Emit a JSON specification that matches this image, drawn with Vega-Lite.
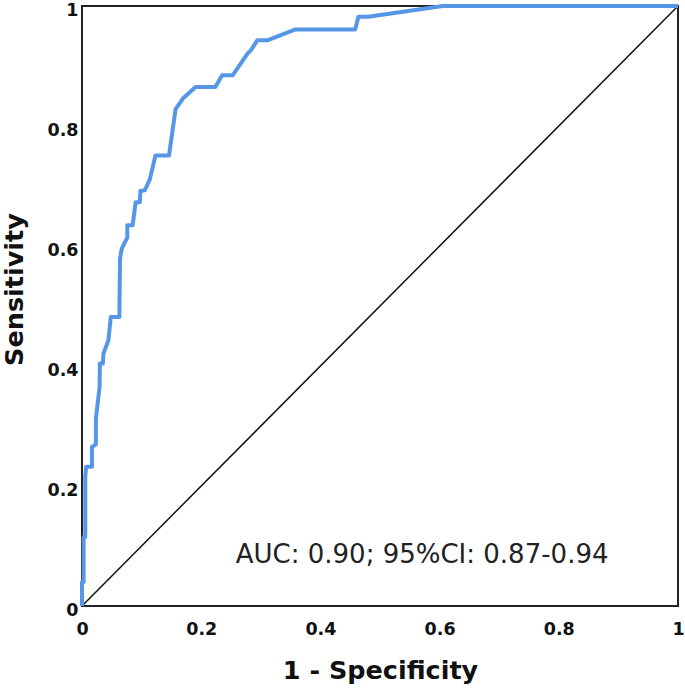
{
  "$schema": "https://vega.github.io/schema/vega-lite/v6.json",
  "width": 596,
  "height": 600,
  "autosize": {"type": "none"},
  "padding": {"left": 82, "top": 6, "right": 7, "bottom": 82},
  "background": "white",
  "config": {
    "view": {"stroke": "#222", "strokeWidth": 2},
    "axis": {
      "grid": false,
      "ticks": false,
      "domain": false,
      "labelFont": "DejaVu Sans",
      "labelFontWeight": "bold",
      "labelFontSize": 17.5,
      "labelColor": "#111",
      "labelFlush": false,
      "titleFont": "DejaVu Sans",
      "titleFontWeight": "bold",
      "titleFontSize": 25.5,
      "titleColor": "#111"
    }
  },
  "datasets": {
    "roc": [
      {"i": 0, "fpr": 0, "tpr": 0},
      {"i": 1, "fpr": 0, "tpr": 0.04},
      {"i": 2, "fpr": 0.0027, "tpr": 0.04},
      {"i": 3, "fpr": 0.0027, "tpr": 0.115},
      {"i": 4, "fpr": 0.0055, "tpr": 0.115},
      {"i": 5, "fpr": 0.0055, "tpr": 0.215},
      {"i": 6, "fpr": 0.007, "tpr": 0.232},
      {"i": 7, "fpr": 0.0167, "tpr": 0.232},
      {"i": 8, "fpr": 0.0167, "tpr": 0.265},
      {"i": 9, "fpr": 0.0233, "tpr": 0.2695},
      {"i": 10, "fpr": 0.0233, "tpr": 0.312},
      {"i": 11, "fpr": 0.0295, "tpr": 0.365},
      {"i": 12, "fpr": 0.03, "tpr": 0.404},
      {"i": 13, "fpr": 0.035, "tpr": 0.404},
      {"i": 14, "fpr": 0.036, "tpr": 0.4207},
      {"i": 15, "fpr": 0.0443, "tpr": 0.443},
      {"i": 16, "fpr": 0.0483, "tpr": 0.4817},
      {"i": 17, "fpr": 0.0627, "tpr": 0.4817},
      {"i": 18, "fpr": 0.0638, "tpr": 0.579},
      {"i": 19, "fpr": 0.0667, "tpr": 0.5957},
      {"i": 20, "fpr": 0.076, "tpr": 0.614},
      {"i": 21, "fpr": 0.076, "tpr": 0.6345},
      {"i": 22, "fpr": 0.085, "tpr": 0.6345},
      {"i": 23, "fpr": 0.09, "tpr": 0.673},
      {"i": 24, "fpr": 0.097, "tpr": 0.673},
      {"i": 25, "fpr": 0.098, "tpr": 0.6917},
      {"i": 26, "fpr": 0.1055, "tpr": 0.693},
      {"i": 27, "fpr": 0.1138, "tpr": 0.711},
      {"i": 28, "fpr": 0.1233, "tpr": 0.7507},
      {"i": 29, "fpr": 0.146, "tpr": 0.7507},
      {"i": 30, "fpr": 0.157, "tpr": 0.828},
      {"i": 31, "fpr": 0.1693, "tpr": 0.8457},
      {"i": 32, "fpr": 0.1905, "tpr": 0.865},
      {"i": 33, "fpr": 0.2238, "tpr": 0.865},
      {"i": 34, "fpr": 0.235, "tpr": 0.8845},
      {"i": 35, "fpr": 0.2527, "tpr": 0.8845},
      {"i": 36, "fpr": 0.2777, "tpr": 0.9207},
      {"i": 37, "fpr": 0.2833, "tpr": 0.926},
      {"i": 38, "fpr": 0.2943, "tpr": 0.943},
      {"i": 39, "fpr": 0.312, "tpr": 0.943},
      {"i": 40, "fpr": 0.3583, "tpr": 0.961},
      {"i": 41, "fpr": 0.4583, "tpr": 0.961},
      {"i": 42, "fpr": 0.4638, "tpr": 0.982},
      {"i": 43, "fpr": 0.4805, "tpr": 0.982},
      {"i": 44, "fpr": 0.6055, "tpr": 1},
      {"i": 45, "fpr": 1, "tpr": 1}
    ],
    "diag": [
      {"i": 0, "fpr": 0, "tpr": 0},
      {"i": 1, "fpr": 1, "tpr": 1}
    ],
    "note": [
      {"fpr": 0.258, "tpr": 0.071, "label": "AUC: 0.90; 95%CI: 0.87-0.94"}
    ]
  },
  "layer": [
    {
      "data": {"name": "diag"},
      "mark": {"type": "line", "color": "#111", "strokeWidth": 1.5},
      "encoding": {
        "x": {
          "field": "fpr", "type": "quantitative",
          "scale": {"domain": [0, 1], "nice": false},
          "axis": {
            "title": "1 - Specificity",
            "values": [0, 0.2, 0.4, 0.6, 0.8, 1],
            "format": "~g",
            "labelPadding": 14,
            "titleY": 52,
            "titleBaseline": "top"
          }
        },
        "y": {
          "field": "tpr", "type": "quantitative",
          "scale": {"domain": [0, 1], "nice": false},
          "axis": {
            "title": "Sensitivity",
            "values": [0, 0.2, 0.4, 0.6, 0.8, 1],
            "format": "~g",
            "labelPadding": 4,
            "labelOffset": 4,
            "titleX": -80,
            "titleY": 283,
            "titleAngle": -90,
            "titleBaseline": "top",
            "titleAlign": "center"
          }
        },
        "order": {"field": "i", "type": "quantitative"}
      }
    },
    {
      "data": {"name": "roc"},
      "mark": {"type": "line", "color": "#5597E6", "strokeWidth": 4, "strokeJoin": "round", "strokeCap": "butt"},
      "encoding": {
        "x": {"field": "fpr", "type": "quantitative"},
        "y": {"field": "tpr", "type": "quantitative"},
        "order": {"field": "i", "type": "quantitative"}
      }
    },
    {
      "data": {"name": "note"},
      "mark": {"type": "text", "font": "DejaVu Sans", "fontSize": 26, "fontWeight": "normal", "color": "#222", "align": "left", "baseline": "alphabetic"},
      "encoding": {
        "x": {"field": "fpr", "type": "quantitative"},
        "y": {"field": "tpr", "type": "quantitative"},
        "text": {"field": "label", "type": "nominal"}
      }
    }
  ]
}
